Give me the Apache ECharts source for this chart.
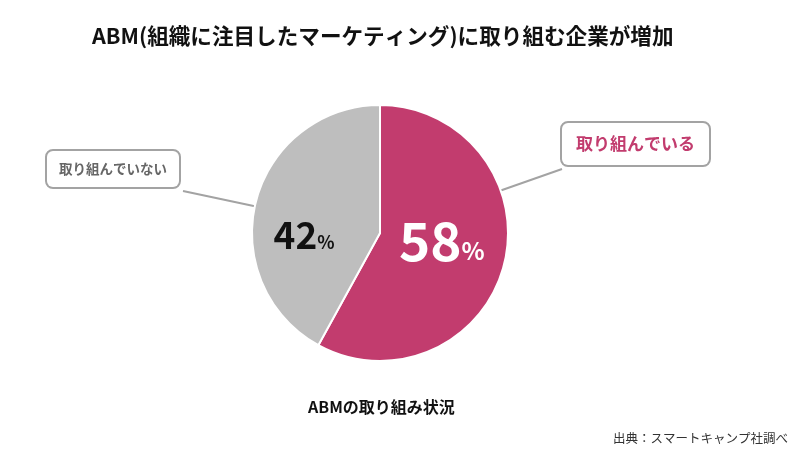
<!DOCTYPE html>
<html><head><meta charset="utf-8">
<script src="https://cdn.jsdelivr.net/npm/echarts@6/dist/echarts.min.js"></script>
<style>html,body{margin:0;padding:0;background:#fff}#c{width:800px;height:454px}</style>
</head><body><div id="c"></div>
<script>
// ---- data ----
const categories = ['取り組んでいる', '取り組んでいない'];
const values = [58, 42];
const titleText = 'ABM(組織に注目したマーケティング)に取り組む企業が増加';
const subText = 'ABMの取り組み状況';
const sourceText = '出典：スマートキャンプ社調べ';

// ---- style ----
const FONT = '"Noto Sans CJK JP", "Noto Sans", sans-serif';
const colors = ['#c23c6e', '#bebebe'];
const CX = 380, CY = 233, R = 128;
const boxPos = [{x: 562, y: 123}, {x: 47, y: 151}];
const boxCornerRight = [false, true];
const calloutStyle = [
  {color: '#c23c6e', fontSize: 17, lineHeight: 20, padding: [11, 14]},
  {color: '#666666', fontSize: 13.5, lineHeight: 18, padding: [9, 12]}
];
const pctOffset = [[-3, -9], [-11, 19]];
const pctColor = ['#ffffff', '#111111'];
const pctSize = [[53, 24], [37, 18]];
const pctWeight = ['bold', 'bold'];

const chart = echarts.init(document.getElementById('c'));

const outerData = categories.map((name, i) => ({
  name, value: values[i],
  itemStyle: {color: colors[i]},
  label: Object.assign({}, calloutStyle[i])
}));
const innerData = categories.map((name, i) => ({
  name, value: values[i],
  label: {
    offset: pctOffset[i],
    rich: {
      n: {fontSize: pctSize[i][0], color: pctColor[i], fontFamily: FONT, fontWeight: pctWeight[i], verticalAlign: 'bottom', lineHeight: pctSize[i][0]},
      p: {fontSize: pctSize[i][1], color: pctColor[i], fontFamily: FONT, fontWeight: pctWeight[i], verticalAlign: 'bottom', lineHeight: pctSize[i][0], padding: [0, 0, Math.round(pctSize[i][0] * 0.08), 0]}
    }
  }
}));

chart.setOption({
  animation: false,
  title: [
    {text: titleText, left: 87, top: 20, textStyle: {fontFamily: FONT, fontSize: 21.6, fontWeight: 'bold', color: '#111'}},
    {text: subText, left: 303, top: 394, textStyle: {fontFamily: FONT, fontSize: 16, fontWeight: 'bold', color: '#111'}},
    {text: sourceText, right: 7, top: 427, textStyle: {fontFamily: FONT, fontSize: 12.5, fontWeight: 'normal', color: '#333'}}
  ],
  series: [
    {
      type: 'pie', center: [CX, CY], radius: [0, R], startAngle: 90, clockwise: true,
      silent: true,
      itemStyle: {borderColor: '#fff', borderWidth: 2},
      label: {
        show: true, position: 'outside', formatter: '{b}',
        fontFamily: FONT, fontWeight: 'bold',
        backgroundColor: '#fff', borderColor: '#a3a3a3', borderWidth: 2, borderRadius: 6
      },
      labelLine: {show: true, smooth: false, lineStyle: {color: '#a3a3a3', width: 2}},
      labelLayout: function (params) {
        const i = params.dataIndex;
        const p = boxPos[i];
        const w = params.labelRect.width, h = params.labelRect.height;
        const cx = boxCornerRight[i] ? p.x + w : p.x;
        const cy = p.y + h;
        const dx = cx - CX, dy = cy - CY, d = Math.hypot(dx, dy);
        const ex = CX + R * dx / d, ey = CY + R * dy / d;
        return {x: p.x, y: p.y, align: 'left', verticalAlign: 'top',
          labelLinePoints: [[ex, ey], [ex, ey], [cx, cy]]};
      },
      data: outerData
    },
    {
      type: 'pie', center: [CX, CY], radius: [0, R], startAngle: 90, clockwise: true,
      silent: true,
      itemStyle: {color: 'transparent'},
      label: {show: true, position: 'inside', formatter: '{n|{c}}{p|%}'},
      labelLine: {show: false},
      data: innerData
    }
  ]
});
</script></body></html>
